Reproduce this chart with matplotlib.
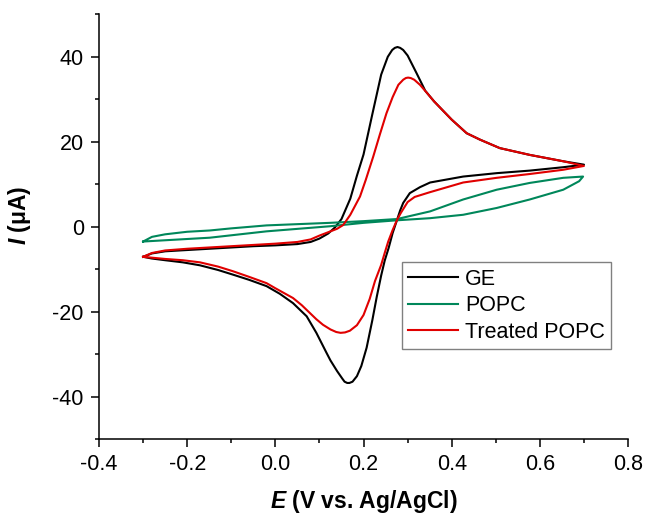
import matplotlib
matplotlib.use("Agg")
from matplotlib import pyplot as plt
from matplotlib.ticker import MultipleLocator

plt.rcParams['font.family'] = ['Liberation Sans', 'DejaVu Sans']
plt.rcParams['mathtext.fontset'] = 'custom'
plt.rcParams['mathtext.bfit'] = 'Liberation Sans:italic:bold'
plt.rcParams['axes.unicode_minus'] = False

# GE (bare gold electrode): forward scan then reverse scan
ge_E = [-0.30, -0.28, -0.25, -0.20, -0.15, -0.10, -0.05, 0.00, 0.05, 0.08, 0.10, 0.12, 0.135,
        0.15, 0.17, 0.185, 0.20, 0.22, 0.24, 0.255, 0.265, 0.271, 0.277, 0.283, 0.29, 0.30,
        0.32, 0.34, 0.36, 0.40, 0.434, 0.464, 0.509, 0.577, 0.653, 0.70,
        0.653, 0.577, 0.502, 0.426, 0.351, 0.328, 0.305, 0.29, 0.283, 0.276, 0.266, 0.257,
        0.248, 0.24, 0.23, 0.22, 0.207, 0.195, 0.185, 0.175, 0.168, 0.163, 0.157, 0.152,
        0.14, 0.125, 0.116, 0.093, 0.071, 0.04, 0.01, -0.02, -0.06, -0.096, -0.13, -0.171,
        -0.21, -0.25, -0.28, -0.30]
ge_I = [-7.1, -6.3, -5.8, -5.5, -5.2, -4.9, -4.6, -4.4, -4.1, -3.6, -2.8, -1.6, -0.2,
        1.8, 6.6, 12.0, 17.0, 26.5, 35.8, 40.0, 41.6, 42.1, 42.3, 42.1, 41.6, 40.3,
        36.2, 32.0, 29.5, 25.2, 22.0, 20.5, 18.5, 16.9, 15.4, 14.6,
        14.0, 13.2, 12.6, 11.8, 10.4, 9.3, 7.9, 5.6, 3.8, 1.6, -1.5, -5.0,
        -8.0, -11.5, -16.5, -22.0, -28.5, -32.8, -35.2, -36.5, -36.8, -36.8, -36.5, -35.8,
        -34.0, -31.5, -29.7, -25.0, -21.1, -18.0, -15.8, -14.0, -12.5, -11.3, -10.2, -9.1,
        -8.4, -7.9, -7.5, -7.1]

# POPC coated electrode
popc_E = [-0.30, -0.28, -0.25, -0.20, -0.149, -0.10, -0.02, 0.124, 0.20, 0.276, 0.351,
          0.426, 0.502, 0.577, 0.653, 0.698,
          0.689, 0.653, 0.577, 0.502, 0.426, 0.351, 0.276, 0.20, 0.124, -0.02, -0.149,
          -0.25, -0.30]
popc_I = [-3.5, -2.4, -1.8, -1.2, -0.9, -0.4, 0.3, 0.9, 1.3, 1.8, 3.6,
          6.4, 8.7, 10.3, 11.5, 11.8,
          10.7, 8.7, 6.4, 4.4, 2.8, 2.0, 1.5, 0.9, 0.1, -1.1, -2.6,
          -3.2, -3.5]

# treated POPC
tpopc_E = [-0.30, -0.28, -0.25, -0.20, -0.15, -0.10, -0.05, 0.00, 0.05, 0.08, 0.10, 0.12, 0.14,
           0.154, 0.17, 0.192, 0.205, 0.222, 0.237, 0.252, 0.266, 0.279, 0.29, 0.296, 0.301,
           0.307, 0.315, 0.328, 0.343, 0.36, 0.40, 0.434, 0.464, 0.509, 0.577, 0.653, 0.70,
           0.653, 0.577, 0.502, 0.426, 0.35, 0.316, 0.30, 0.285, 0.276, 0.266, 0.256, 0.248,
           0.24, 0.226, 0.214, 0.20, 0.185, 0.169, 0.158, 0.148, 0.138, 0.125, 0.108, 0.093,
           0.078, 0.06, 0.04, 0.00, -0.02, -0.06, -0.096, -0.13, -0.171, -0.21, -0.25, -0.28,
           -0.30]
tpopc_I = [-7.1, -6.2, -5.6, -5.2, -4.9, -4.6, -4.3, -4.0, -3.6, -3.0, -2.1, -1.3, -0.5,
           0.4, 2.8, 7.1, 11.0, 16.5, 21.7, 26.7, 30.5, 33.4, 34.6, 35.0, 35.1,
           35.0, 34.6, 33.4, 31.6, 29.5, 25.2, 22.0, 20.5, 18.5, 16.9, 15.4, 14.3,
           13.4, 12.4, 11.5, 10.4, 8.1, 7.0, 5.8, 3.3, 1.6, -0.8, -3.5, -6.2,
           -9.0, -12.8, -17.0, -20.8, -23.2, -24.5, -24.9, -25.0, -24.8, -24.2, -23.1, -21.8,
           -20.3, -18.5, -16.8, -14.5, -13.3, -11.8, -10.5, -9.4, -8.4, -7.9, -7.6, -7.3,
           -7.1]

fig = plt.figure(figsize=(6.46, 5.13), dpi=100)
ax = fig.add_axes([0.1533, 0.1442, 0.8189, 0.8279])

ax.plot(ge_E, ge_I, color="black", lw=1.5, label="GE")
ax.plot(popc_E, popc_I, color="#00875A", lw=1.5, label="POPC")
ax.plot(tpopc_E, tpopc_I, color="#E00000", lw=1.5, label="Treated POPC")

ax.set_xlim(-0.4, 0.8)
ax.set_ylim(-50, 50)
ax.xaxis.set_major_locator(MultipleLocator(0.2))
ax.xaxis.set_minor_locator(MultipleLocator(0.1))
ax.yaxis.set_major_locator(MultipleLocator(20))
ax.yaxis.set_minor_locator(MultipleLocator(10))
ax.set_yticks([-40, -20, 0, 20, 40])

ax.spines['top'].set_visible(False)
ax.spines['right'].set_visible(False)
for s in ['left', 'bottom']:
    ax.spines[s].set_linewidth(1.1)
ax.tick_params(which='major', direction='out', length=6, width=1.1, labelsize=15.5, pad=5)
ax.tick_params(which='minor', direction='out', length=3.2, width=1.1)

ax.set_xlabel(r"$\mathbfit{E}$ (V vs. Ag/AgCl)", fontsize=16.5, fontweight='bold')
ax.set_ylabel(r"$\mathbfit{I}$ (μA)", fontsize=16.5, fontweight='bold')
ax.xaxis.set_label_coords(0.5, -0.115)
ax.yaxis.set_label_coords(-0.125, 0.527)

leg = ax.legend(loc="upper left", bbox_to_anchor=(0.572, 0.416), borderaxespad=0,
                fontsize=15.5, frameon=True, fancybox=False, framealpha=1,
                edgecolor="#808080", handlelength=2.3, handletextpad=0.35,
                labelspacing=0.25, borderpad=0.3)
leg.get_frame().set_linewidth(1.0)

plt.savefig("out.png", dpi=100)
